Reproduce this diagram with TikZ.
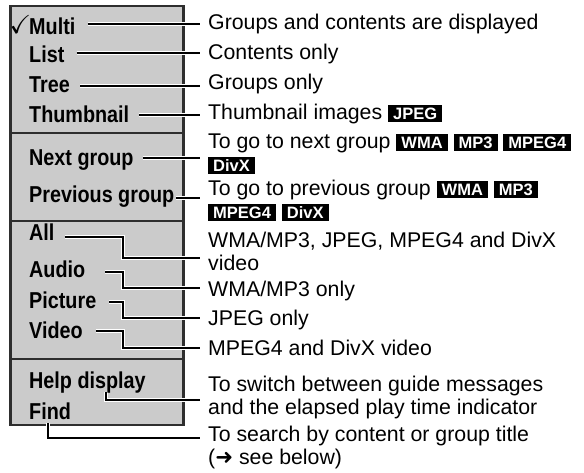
\documentclass[tikz,border=0pt]{standalone}
\usepackage{amssymb}
\usepackage{fontspec}
\setmainfont{Liberation Sans}
\newfontfamily\itemfont{Liberation Sans}[FakeStretch=0.86]
\newfontfamily\symfont{DejaVu Sans}
\usetikzlibrary{backgrounds}
\definecolor{panelgray}{HTML}{CBCBCB}
\definecolor{panelrule}{HTML}{2E2E2E}
\newcommand{\fmt}[1]{{\setlength{\fboxsep}{0pt}\colorbox{black}{\rule[-3pt]{0pt}{17pt}\hspace{5pt}\textcolor{white}{\bfseries\fontsize{16.5}{16.5}\selectfont#1}\hspace{5pt}}}}

\begin{document}
\begin{tikzpicture}[x=1pt, y=-1pt,
    menuitem/.style={anchor=base west, inner sep=0pt,
                     font=\itemfont\bfseries\fontsize{23}{27}\selectfont},
    infotext/.style={anchor=base west, inner xsep=8pt, inner ysep=0pt, align=left,
                     font=\fontsize{21.3}{23}\selectfont},
    panel/.style={draw=panelrule, line width=2.3pt, fill=panelgray, outer sep=0pt},
    divider/.style={draw=panelrule, line width=2.3pt},
    conn/.style={line width=1.2pt, preaction={draw=white, line width=4pt}}
  ]
  \useasboundingbox (0,0) rectangle (584,472);

  % menu panel
  \begin{scope}[on background layer]
    \node[panel, anchor=north west, minimum width=173pt, minimum height=419pt] (panel) at (10.5,6) {};
    \foreach \y in {133,221,359}
      \draw[divider] (panel.west |- 0,\y) -- (panel.east |- 0,\y);
  \end{scope}

  % menu entries
  \node[anchor=base west, inner sep=0pt, font=\fontsize{26}{26}\selectfont] (tick) at (9.5,33) {\checkmark};
  \node[menuitem] (multi) at (29,34) {Multi};
  \node[menuitem] (list) at (29,62) {List};
  \node[menuitem] (tree) at (29,92) {Tree};
  \node[menuitem] (thumb) at (29,122) {Thumbnail};
  \node[menuitem] (next) at (29,165) {Next group};
  \node[menuitem] (prev) at (29,202) {Previous group};
  \node[menuitem] (all) at (29,240) {All};
  \node[menuitem] (audio) at (29,277) {Audio};
  \node[menuitem] (picture) at (29,308) {Picture};
  \node[menuitem] (video) at (29,338) {Video};
  \node[menuitem] (help) at (29,388) {Help display};
  \node[menuitem] (find) at (29,419) {Find};

  % explanations (base = last line)
  \node[infotext] (multidesc) at (200,29) {Groups and contents are displayed};
  \node[infotext] (listdesc) at (200,59) {Contents only};
  \node[infotext] (treedesc) at (200,89) {Groups only};
  \node[infotext] (thumbdesc) at (200,119) {Thumbnail images \fmt{JPEG}};
  \node[infotext] (nextdesc) at (200,171)
    {To go to next group \fmt{WMA} \fmt{MP3} \fmt{MPEG4}\\\fmt{DivX}};
  \node[infotext] (prevdesc) at (200,218)
    {To go to previous group \fmt{WMA} \fmt{MP3}\\\fmt{MPEG4} \fmt{DivX}};
  \node[infotext] (alldesc) at (200,270) {WMA/MP3, JPEG, MPEG4 and DivX\\video};
  \node[infotext] (audiodesc) at (200,296) {WMA/MP3 only};
  \node[infotext] (picdesc) at (200,325) {JPEG only};
  \node[infotext] (videodesc) at (200,355) {MPEG4 and DivX video};
  \node[infotext] (helpdesc) at (200,414)
    {To switch between guide messages\\and the elapsed play time indicator};
  \node[infotext] (finddesc) at (200,464)
    {To search by content or group title\\({\symfont ➜} see below)};

  \coordinate (bus) at (123,0);

  % leader lines
  \begin{scope}[on background layer]
    \draw[conn] ([shift={(12pt,10pt)}]multi.base east) -- ([yshift=10pt]multi.base -| multidesc.west);
    \draw[conn] ([shift={(12pt,9pt)}]list.base east) -- ([yshift=9pt]list.base -| listdesc.west);
    \draw[conn] ([shift={(10pt,6pt)}]tree.base east) -- ([yshift=6pt]tree.base -| treedesc.west);
    \draw[conn] ([shift={(10pt,7pt)}]thumb.base east) -- ([yshift=7pt]thumb.base -| thumbdesc.west);
    \draw[conn] ([shift={(9pt,7pt)}]next.base east) -- ([yshift=7pt]next.base -| nextdesc.west);
    \draw[conn] ([shift={(2pt,4pt)}]prev.base east) -- ([yshift=4pt]prev.base -| prevdesc.west);
    \draw[conn] ([shift={(10pt,3pt)}]all.base east) -| ([yshift=-18pt]all.base -| bus)
      -- ([yshift=-18pt]all.base -| alldesc.west);
    \draw[conn] ([shift={(20pt,5pt)}]audio.base east) -| ([yshift=-11pt]audio.base -| bus)
      -- ([yshift=-11pt]audio.base -| audiodesc.west);
    \draw[conn] ([shift={(13pt,6pt)}]picture.base east) -| ([yshift=-10pt]picture.base -| bus)
      -- ([yshift=-10pt]picture.base -| picdesc.west);
    \draw[conn] ([shift={(13pt,7pt)}]video.base east) -| ([yshift=-10pt]video.base -| bus)
      -- ([yshift=-10pt]video.base -| videodesc.west);
    \draw[conn] ([shift={(77pt,-4pt)}]help.base west) |- ([yshift=-12pt]help.base -| helpdesc.west);
    \draw[conn] ([shift={(19pt,-4pt)}]find.base west) |- ([yshift=-19pt]find.base -| finddesc.west);
  \end{scope}
\end{tikzpicture}
\end{document}
